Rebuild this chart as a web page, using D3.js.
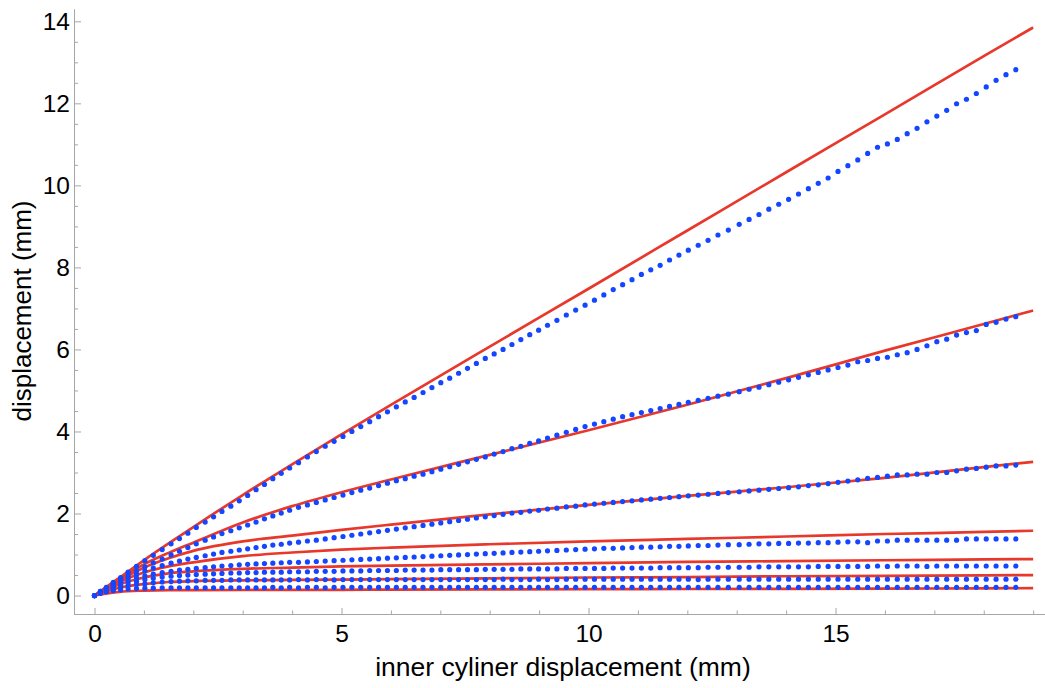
<!DOCTYPE html>
<html><head><meta charset="utf-8">
<script src="https://cdn.jsdelivr.net/npm/d3@7"></script>
<style>
body{margin:0;background:#fff;}
svg{display:block;font-family:"Liberation Sans",Arial,Helvetica,sans-serif;}
</style>
</head><body>
<svg id="chart" width="1045" height="688"></svg>
<script>
// ---- data ----
const xTicks = [0, 5, 10, 15];
const xMinorTicks = [1,2,3,4,6,7,8,9,11,12,13,14,16,17,18,19];
const yTicks = [0, 2, 4, 6, 8, 10, 12, 14];
const yMinorTicks = [0.5,1,1.5,2.5,3,3.5,4.5,5,5.5,6.5,7,7.5,8.5,9,9.5,10.5,11,11.5,12.5,13,13.5];
const xTitle = "inner cyliner displacement (mm)";
const yTitle = "displacement (mm)";

// model curves (red)
const modelX = [0, 0.5, 1, 1.5, 2, 3, 4, 5, 6, 8, 10, 12, 14, 16, 18, 19];
const model1 = [0, 0.43, 0.86, 1.27, 1.67, 2.45, 3.2, 3.93, 4.65, 6.07, 7.48, 8.9, 10.32, 11.73, 13.15, 13.85];
const model2 = [0, 0.4, 0.76, 1.04, 1.29, 1.78, 2.18, 2.52, 2.83, 3.43, 4.03, 4.65, 5.3, 5.97, 6.62, 6.95];
const model3 = [0, 0.37, 0.68, 0.91, 1.09, 1.32, 1.46, 1.6, 1.73, 1.98, 2.21, 2.43, 2.64, 2.87, 3.13, 3.26];
const model4 = [0, 0.33, 0.56, 0.71, 0.81, 0.96, 1.05, 1.12, 1.17, 1.25, 1.32, 1.38, 1.44, 1.5, 1.55, 1.58];
const model5 = [0, 0.27, 0.44, 0.54, 0.59, 0.65, 0.68, 0.71, 0.73, 0.76, 0.79, 0.82, 0.84, 0.86, 0.88, 0.89];
const model6 = [0, 0.19, 0.28, 0.33, 0.35, 0.37, 0.38, 0.39, 0.4, 0.42, 0.44, 0.45, 0.47, 0.48, 0.49, 0.5];
const model7 = [0, 0.09, 0.12, 0.13, 0.13, 0.135, 0.14, 0.14, 0.145, 0.15, 0.155, 0.16, 0.165, 0.17, 0.175, 0.18];

// measured points (blue)
const measX = [0, 0.12, 0.24, 0.38, 0.53, 0.68, 0.85, 1.02, 1.19, 1.37,
  1.55, 1.72, 1.89, 2.06, 2.24, 2.41, 2.58, 2.76, 2.93, 3.10,
  3.27, 3.44, 3.61, 3.78, 3.95, 4.13, 4.31, 4.49, 4.67, 4.85,
  5.03, 5.21, 5.39, 5.57, 5.75, 5.93, 6.11, 6.29, 6.47, 6.65,
  6.83, 7.01, 7.19, 7.37, 7.55, 7.73, 7.91, 8.09, 8.27, 8.45,
  8.63, 8.81, 8.99, 9.17, 9.36, 9.55, 9.74, 9.93, 10.12, 10.31,
  10.50, 10.69, 10.88, 11.07, 11.26, 11.45, 11.64, 11.83, 12.02, 12.22,
  12.42, 12.62, 12.83, 13.05, 13.25, 13.45, 13.65, 13.85, 14.05, 14.25,
  14.45, 14.65, 14.85, 15.05, 15.25, 15.45, 15.65, 15.85, 16.05, 16.25,
  16.45, 16.65, 16.85, 17.05, 17.25, 17.45, 17.65, 17.85, 18.05, 18.25,
  18.45, 18.65];
const meas1 = [0, 0.1, 0.2, 0.32, 0.44, 0.57, 0.71, 0.85, 0.98, 1.12,
  1.26, 1.39, 1.52, 1.66, 1.79, 1.92, 2.05, 2.18, 2.31, 2.44,
  2.58, 2.71, 2.85, 2.98, 3.11, 3.24, 3.38, 3.51, 3.64, 3.76,
  3.88, 4.0, 4.12, 4.24, 4.36, 4.48, 4.6, 4.72, 4.83, 4.95,
  5.07, 5.19, 5.3, 5.42, 5.54, 5.66, 5.78, 5.89, 6.0, 6.12,
  6.24, 6.36, 6.47, 6.59, 6.71, 6.84, 6.96, 7.08, 7.2, 7.33,
  7.46, 7.58, 7.7, 7.83, 7.94, 8.05, 8.18, 8.3, 8.42, 8.54,
  8.66, 8.79, 8.91, 9.05, 9.17, 9.29, 9.42, 9.54, 9.66, 9.79,
  9.92, 10.05, 10.18, 10.34, 10.48, 10.62, 10.78, 10.93, 11.01, 11.12,
  11.26, 11.39, 11.55, 11.69, 11.83, 11.99, 12.1, 12.24, 12.4, 12.56,
  12.7, 12.82];
const meas2 = [0, 0.1, 0.19, 0.3, 0.4, 0.5, 0.6, 0.7, 0.8, 0.89,
  0.99, 1.08, 1.17, 1.26, 1.35, 1.43, 1.51, 1.58, 1.65, 1.72,
  1.79, 1.87, 1.94, 2.01, 2.08, 2.15, 2.21, 2.27, 2.33, 2.39,
  2.45, 2.51, 2.57, 2.62, 2.68, 2.74, 2.8, 2.85, 2.91, 2.96,
  3.02, 3.08, 3.14, 3.2, 3.26, 3.32, 3.38, 3.45, 3.51, 3.58,
  3.64, 3.71, 3.77, 3.84, 3.91, 3.98, 4.05, 4.12, 4.18, 4.24,
  4.3, 4.36, 4.41, 4.46, 4.51, 4.56, 4.61, 4.66, 4.71, 4.76,
  4.81, 4.86, 4.91, 4.97, 5.03, 5.08, 5.14, 5.2, 5.26, 5.32,
  5.38, 5.44, 5.5, 5.56, 5.62, 5.7, 5.73, 5.78, 5.81, 5.87,
  5.92, 6.0, 6.09, 6.19, 6.25, 6.35, 6.41, 6.46, 6.61, 6.66,
  6.74, 6.8];
const meas3 = [0, 0.09, 0.18, 0.27, 0.36, 0.44, 0.52, 0.6, 0.67, 0.73,
  0.79, 0.84, 0.89, 0.93, 0.97, 1.01, 1.05, 1.08, 1.11, 1.14,
  1.17, 1.2, 1.23, 1.25, 1.28, 1.3, 1.33, 1.35, 1.38, 1.41,
  1.44, 1.47, 1.5, 1.53, 1.56, 1.59, 1.62, 1.65, 1.68, 1.71,
  1.74, 1.77, 1.8, 1.83, 1.86, 1.89, 1.92, 1.95, 1.98, 2.01,
  2.03, 2.06, 2.08, 2.11, 2.13, 2.16, 2.18, 2.21, 2.23, 2.25,
  2.27, 2.29, 2.31, 2.33, 2.35, 2.37, 2.39, 2.41, 2.43, 2.45,
  2.47, 2.49, 2.51, 2.53, 2.55, 2.57, 2.59, 2.61, 2.63, 2.65,
  2.68, 2.7, 2.73, 2.76, 2.79, 2.82, 2.86, 2.88, 2.91, 2.94,
  2.94, 2.96, 2.96, 3.0, 3.0, 3.04, 3.08, 3.1, 3.13, 3.16,
  3.16, 3.18];
const meas4 = [0, 0.08, 0.16, 0.24, 0.31, 0.37, 0.43, 0.48, 0.52, 0.56,
  0.59, 0.62, 0.64, 0.66, 0.68, 0.7, 0.72, 0.73, 0.75, 0.76,
  0.77, 0.78, 0.79, 0.8, 0.81, 0.81, 0.82, 0.83, 0.84, 0.85,
  0.86, 0.87, 0.88, 0.89, 0.9, 0.91, 0.92, 0.93, 0.94, 0.95,
  0.96, 0.97, 0.98, 0.99, 1.0, 1.01, 1.02, 1.03, 1.04, 1.05,
  1.06, 1.07, 1.08, 1.09, 1.1, 1.11, 1.12, 1.13, 1.14, 1.15,
  1.15, 1.16, 1.17, 1.18, 1.18, 1.19, 1.2, 1.2, 1.21, 1.22,
  1.22, 1.23, 1.24, 1.24, 1.25, 1.26, 1.26, 1.27, 1.27, 1.28,
  1.28, 1.29, 1.29, 1.3, 1.31, 1.31, 1.29, 1.33, 1.33, 1.35,
  1.35, 1.35, 1.35, 1.35, 1.35, 1.35, 1.38, 1.38, 1.38, 1.38,
  1.38, 1.38];
const meas5 = [0, 0.07, 0.14, 0.2, 0.26, 0.31, 0.35, 0.39, 0.42, 0.45,
  0.47, 0.49, 0.5, 0.51, 0.52, 0.53, 0.54, 0.55, 0.55, 0.56,
  0.56, 0.57, 0.57, 0.57, 0.58, 0.58, 0.58, 0.59, 0.59, 0.59,
  0.6, 0.6, 0.6, 0.61, 0.61, 0.61, 0.61, 0.62, 0.62, 0.62,
  0.62, 0.63, 0.63, 0.63, 0.63, 0.63, 0.64, 0.64, 0.64, 0.64,
  0.65, 0.65, 0.65, 0.65, 0.65, 0.66, 0.66, 0.66, 0.66, 0.66,
  0.67, 0.67, 0.67, 0.67, 0.67, 0.68, 0.68, 0.68, 0.68, 0.68,
  0.69, 0.69, 0.69, 0.69, 0.69, 0.7, 0.7, 0.7, 0.7, 0.7,
  0.7, 0.71, 0.71, 0.71, 0.71, 0.71, 0.71, 0.72, 0.71, 0.72,
  0.72, 0.72, 0.71, 0.72, 0.72, 0.72, 0.72, 0.72, 0.72, 0.72,
  0.72, 0.72];
const meas6 = [0, 0.06, 0.11, 0.16, 0.2, 0.24, 0.27, 0.29, 0.31, 0.33,
  0.34, 0.35, 0.36, 0.36, 0.37, 0.37, 0.37, 0.38, 0.38, 0.38,
  0.38, 0.38, 0.38, 0.38, 0.38, 0.39, 0.38, 0.39, 0.39, 0.38,
  0.39, 0.39, 0.39, 0.39, 0.39, 0.39, 0.39, 0.39, 0.39, 0.39,
  0.39, 0.39, 0.39, 0.39, 0.39, 0.39, 0.39, 0.39, 0.4, 0.39,
  0.39, 0.39, 0.4, 0.39, 0.39, 0.4, 0.4, 0.4, 0.4, 0.4,
  0.4, 0.4, 0.4, 0.4, 0.4, 0.4, 0.4, 0.4, 0.4, 0.39,
  0.4, 0.4, 0.4, 0.4, 0.4, 0.4, 0.4, 0.4, 0.4, 0.4,
  0.4, 0.4, 0.4, 0.4, 0.4, 0.4, 0.4, 0.4, 0.4, 0.4,
  0.4, 0.4, 0.4, 0.4, 0.4, 0.4, 0.4, 0.4, 0.4, 0.4,
  0.4, 0.4];
const meas7 = [0, 0.05, 0.09, 0.12, 0.14, 0.16, 0.17, 0.18, 0.18, 0.19,
  0.19, 0.19, 0.19, 0.19, 0.19, 0.19, 0.19, 0.19, 0.19, 0.19,
  0.19, 0.19, 0.2, 0.19, 0.2, 0.19, 0.2, 0.2, 0.19, 0.2,
  0.2, 0.2, 0.2, 0.2, 0.2, 0.2, 0.2, 0.2, 0.2, 0.2,
  0.2, 0.2, 0.2, 0.2, 0.2, 0.2, 0.2, 0.2, 0.2, 0.2,
  0.2, 0.2, 0.2, 0.2, 0.2, 0.2, 0.2, 0.2, 0.2, 0.2,
  0.2, 0.2, 0.2, 0.2, 0.2, 0.2, 0.2, 0.2, 0.2, 0.2,
  0.2, 0.2, 0.2, 0.2, 0.2, 0.2, 0.2, 0.2, 0.2, 0.2,
  0.2, 0.2, 0.2, 0.2, 0.2, 0.2, 0.2, 0.2, 0.2, 0.2,
  0.2, 0.2, 0.2, 0.2, 0.2, 0.2, 0.2, 0.2, 0.2, 0.2,
  0.2, 0.2];

const modelSeries = [model1, model2, model3, model4, model5, model6, model7];
const measSeries = [meas1, meas2, meas3, meas4, meas5, meas6, meas7];

// ---- chart ----
const svg = d3.select("#chart");
const x = d3.scaleLinear().domain([-0.415, 19.24]).range([74, 1045]);
const y = d3.scaleLinear().domain([-0.45, 14.3]).range([614, 9]);
const axisColor = "#a6a6a6";
const red = "#e8382c";
const blue = "#1446ff";

function styleAxis(g) {
  g.selectAll(".domain").attr("stroke", axisColor).attr("stroke-width", 1);
  g.selectAll(".tick line").attr("stroke", axisColor).attr("stroke-width", 1);
  g.selectAll(".tick text").attr("fill", "#000").attr("font-size", 24.5)
    .attr("font-family", '"Liberation Sans",Arial,Helvetica,sans-serif');
}

// minor ticks
svg.append("g").attr("transform", "translate(0,614)")
  .call(d3.axisBottom(x).tickValues(xMinorTicks).tickSize(-3.5).tickSizeOuter(0).tickFormat(""))
  .call(styleAxis);
svg.append("g").attr("transform", "translate(74,0)")
  .call(d3.axisLeft(y).tickValues(yMinorTicks).tickSize(-4).tickSizeOuter(0).tickFormat(""))
  .call(styleAxis);
// major ticks
svg.append("g").attr("transform", "translate(0,614)")
  .call(d3.axisBottom(x).tickValues(xTicks).tickSize(-6).tickSizeOuter(0).tickPadding(11).tickFormat(d3.format("d")))
  .call(styleAxis);
svg.append("g").attr("transform", "translate(74,0)")
  .call(d3.axisLeft(y).tickValues(yTicks).tickSize(-7).tickSizeOuter(0).tickPadding(4).tickFormat(d3.format("d")))
  .call(styleAxis);

// axis titles
svg.append("text").attr("x", 563).attr("y", 676).attr("text-anchor", "middle")
  .attr("font-size", 26.5).attr("fill", "#000").text(xTitle);
svg.append("text").attr("transform", "translate(31,311) rotate(-90)").attr("text-anchor", "middle")
  .attr("font-size", 26).attr("fill", "#000").text(yTitle);

// model lines
const line = d3.line().x(d => x(d[0])).y(d => y(d[1])).curve(d3.curveMonotoneX);
svg.append("g").selectAll("path").data(modelSeries).join("path")
  .attr("d", s => line(modelX.map((xv, i) => [xv, s[i]])))
  .attr("fill", "none").attr("stroke", red).attr("stroke-width", 2.7);

// measured dots
const dotG = svg.append("g");
measSeries.forEach(s => {
  dotG.append("g").selectAll("circle").data(measX.map((xv, i) => [xv, s[i]])).join("circle")
    .attr("cx", d => x(d[0])).attr("cy", d => y(d[1])).attr("r", 2.6).attr("fill", blue);
});
</script>
</body></html>
